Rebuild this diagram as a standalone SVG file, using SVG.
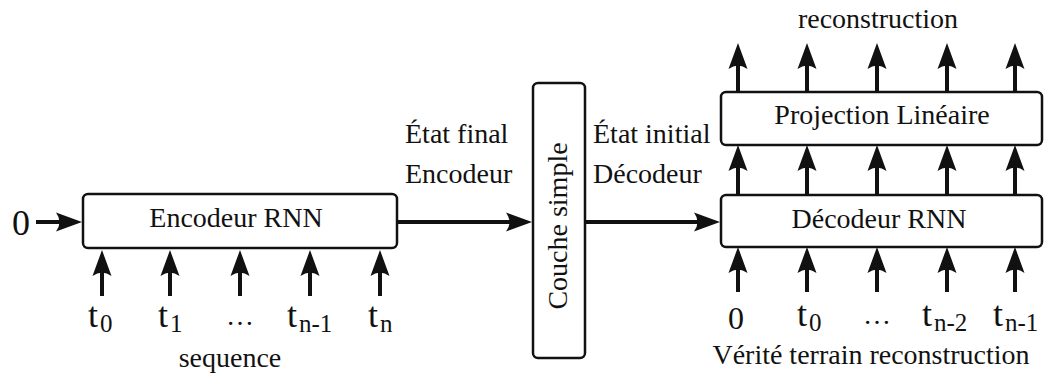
<svg xmlns="http://www.w3.org/2000/svg" width="1046" height="378" viewBox="0 0 1046 378">
  <style>
    .box { fill: #ffffff; stroke: #111111; stroke-width: 2.5; }
    .wire { stroke: #111111; stroke-width: 4; fill: none; marker-end: url(#head); }
    text { font-family: "Liberation Serif", "Times New Roman", serif; fill: #111111; }
    .lbl { font-size: 28px; }
    .mid { text-anchor: middle; }
    .t { font-size: 36px; }
    .sub { font-size: 25px; }
  </style>
  <defs>
    <marker id="head" markerUnits="userSpaceOnUse" viewBox="-27 -10 27 20" refX="-12" refY="0" markerWidth="27" markerHeight="20" orient="auto" overflow="visible">
      <path d="M0 0 L-26 -9.5 Q-19 0 -26 9.5 Z" fill="#111111"/>
    </marker>
  </defs>

  <!-- connectors -->
  <g id="connectors">
    <!-- initial state into encoder -->
    <line class="wire" x1="36" y1="222" x2="70" y2="222"/>
    <!-- encoder inputs -->
    <line class="wire" x1="102" y1="296" x2="102" y2="262"/>
    <line class="wire" x1="170" y1="296" x2="170" y2="262"/>
    <line class="wire" x1="240" y1="296" x2="240" y2="262"/>
    <line class="wire" x1="310" y1="296" x2="310" y2="262"/>
    <line class="wire" x1="380" y1="296" x2="380" y2="262"/>
    <!-- encoder -> simple layer -> decoder -->
    <line class="wire" x1="397" y1="222" x2="520" y2="222"/>
    <line class="wire" x1="585" y1="222" x2="708" y2="222"/>
    <!-- decoder inputs -->
    <line class="wire" x1="738" y1="292" x2="738" y2="259"/>
    <line class="wire" x1="807" y1="292" x2="807" y2="259"/>
    <line class="wire" x1="877" y1="292" x2="877" y2="259"/>
    <line class="wire" x1="947" y1="292" x2="947" y2="259"/>
    <line class="wire" x1="1015" y1="292" x2="1015" y2="259"/>
    <!-- decoder -> projection -->
    <line class="wire" x1="738" y1="195" x2="738" y2="157"/>
    <line class="wire" x1="807" y1="195" x2="807" y2="157"/>
    <line class="wire" x1="877" y1="195" x2="877" y2="157"/>
    <line class="wire" x1="947" y1="195" x2="947" y2="157"/>
    <line class="wire" x1="1015" y1="195" x2="1015" y2="157"/>
    <!-- projection outputs -->
    <line class="wire" x1="738" y1="92" x2="738" y2="55"/>
    <line class="wire" x1="807" y1="92" x2="807" y2="55"/>
    <line class="wire" x1="877" y1="92" x2="877" y2="55"/>
    <line class="wire" x1="947" y1="92" x2="947" y2="55"/>
    <line class="wire" x1="1015" y1="92" x2="1015" y2="55"/>
  </g>

  <g id="init-zero">
    <text x="12" y="235" style="font-size:36px">0</text>
  </g>

  <g id="encoder">
    <rect class="box" x="83" y="194" width="314" height="54" rx="5"/>
    <text class="lbl mid" x="236" y="227">Encodeur RNN</text>
  </g>

  <g id="encoder-inputs">
    <text class="t" x="88" y="327">t<tspan class="sub" dx="2" dy="5">0</tspan></text>
    <text class="t" x="158" y="327">t<tspan class="sub" dx="2" dy="5">1</tspan></text>
    <text class="lbl mid" x="240" y="325">…</text>
    <text class="t" x="287" y="327">t<tspan class="sub" dx="2" dy="5">n-1</tspan></text>
    <text class="t" x="368" y="327">t<tspan class="sub" dx="2" dy="5">n</tspan></text>
    <text class="lbl mid" x="230" y="367">sequence</text>
  </g>

  <g id="encoder-state-label">
    <text class="lbl" x="405" y="143">État final</text>
    <text class="lbl" x="405" y="183">Encodeur</text>
  </g>

  <g id="simple-layer">
    <rect class="box" x="533" y="83" width="52" height="275" rx="5"/>
    <text class="lbl mid" transform="translate(567 226) rotate(-90)">Couche simple</text>
  </g>

  <g id="decoder-state-label">
    <text class="lbl" x="593" y="143">État initial</text>
    <text class="lbl" x="593" y="183">Décodeur</text>
  </g>

  <g id="decoder">
    <rect class="box" x="721" y="195" width="321" height="52" rx="5"/>
    <text class="lbl mid" x="879" y="228">Décodeur RNN</text>
  </g>

  <g id="projection">
    <rect class="box" x="721" y="92" width="321" height="53" rx="5"/>
    <text class="lbl mid" x="882" y="124">Projection Linéaire</text>
  </g>

  <g id="output-label">
    <text class="lbl mid" x="878" y="28">reconstruction</text>
  </g>

  <g id="decoder-inputs">
    <text x="728" y="329" style="font-size:32px">0</text>
    <text class="t" x="797" y="326">t<tspan class="sub" dx="2" dy="5">0</tspan></text>
    <text class="lbl mid" x="877" y="324">…</text>
    <text class="t" x="922" y="326">t<tspan class="sub" dx="2" dy="5">n-2</tspan></text>
    <text class="t" x="993" y="326">t<tspan class="sub" dx="2" dy="5">n-1</tspan></text>
    <text class="lbl mid" x="871" y="364">Vérité terrain reconstruction</text>
  </g>
</svg>
